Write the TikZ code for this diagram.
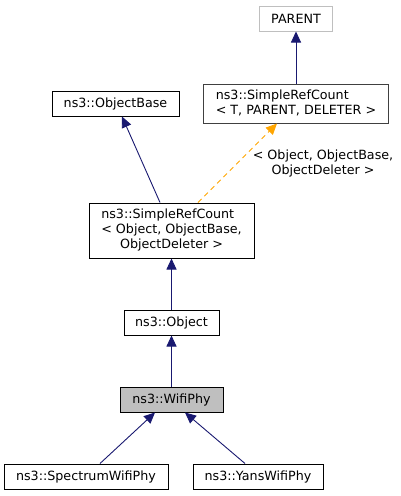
\documentclass[tikz,border=0pt]{standalone}
\usepackage{fontspec}
\setmainfont{DejaVu Sans}
\usetikzlibrary{arrows.meta}
\definecolor{edgeBlue}{HTML}{191970}
\definecolor{edgeOrange}{HTML}{FFA500}
\definecolor{boxGray}{HTML}{BFBFBF}
\definecolor{tmplGray}{HTML}{404040}
\newlength\boxHeight
\setlength\boxHeight{25pt}
\tikzset{
  classbox/.style={draw=black,line width=1pt,fill=white,inner sep=0pt,
    minimum height=\boxHeight,font=\fontsize{12.7}{15}\selectfont},
  inherit/.style={draw=edgeBlue,line width=0.9pt,
    -{Triangle[length=11pt,width=10pt,fill=edgeBlue]}},
  usedby/.style={draw=edgeOrange,line width=0.9pt,dash pattern=on 5pt off 4pt,
    -{Triangle[length=11pt,width=10pt,fill=edgeOrange]}}
}
\begin{document}
\begin{tikzpicture}[x=1pt,y=-1pt]
    \useasboundingbox (0,0) rectangle (401,496);

    % template chain
    \node[classbox,draw=boxGray,minimum width=73pt] (parent) at (296,18.5) {PARENT};
    \node[classbox,draw=tmplGray,minimum width=185pt,minimum height=39pt] (refCountT) at (296,103.5)
      {\begin{tabular}{@{}l@{}}ns3::SimpleRefCount\\< T, PARENT, DELETER >\end{tabular}};
    \node[classbox,minimum width=127pt] (objectBase) at (115.5,103.5) {ns3::ObjectBase};
    \node[classbox,minimum width=165pt,minimum height=55pt] (refCountObj) at (171.5,230.5)
      {\begin{tabular}{@{}l@{}}ns3::SimpleRefCount\\< Object, ObjectBase,\\\multicolumn{1}{@{}c@{}}{ObjectDeleter >}\end{tabular}};

    % main chain
    \node[classbox,minimum width=95pt] (object) at (171.5,322.5) {ns3::Object};
    \node[classbox,fill=boxGray,minimum width=103pt] (wifiPhy) at (171.5,399.5) {ns3::WifiPhy};
    \node[classbox,minimum width=164pt] (spectrumPhy) at (86,476.5) {ns3::SpectrumWifiPhy};
    \node[classbox,minimum width=130pt] (yansPhy) at (258,476.5) {ns3::YansWifiPhy};

    \draw[inherit] (refCountT) -- (parent);
    \draw[inherit] ([xshift=-11.5pt]refCountObj.north) -- ([xshift=6.5pt]objectBase.south);
    \draw[usedby] ([xshift=26.5pt]refCountObj.north) -- ([xshift=-19pt]refCountT.south);
    \node[align=center,font=\fontsize{12.7}{15}\selectfont] (bindLabel) at (323,163)
      {< Object, ObjectBase,\\ObjectDeleter >};

    \draw[inherit] (object) -- (refCountObj);
    \draw[inherit] (wifiPhy) -- (object);
    \foreach \child/\from/\to in {spectrumPhy/14pt/-16.5pt,yansPhy/-13pt/13.5pt} {
      \draw[inherit] ([xshift=\from]\child.north) -- ([xshift=\to]wifiPhy.south);
    }
\end{tikzpicture}
\end{document}
